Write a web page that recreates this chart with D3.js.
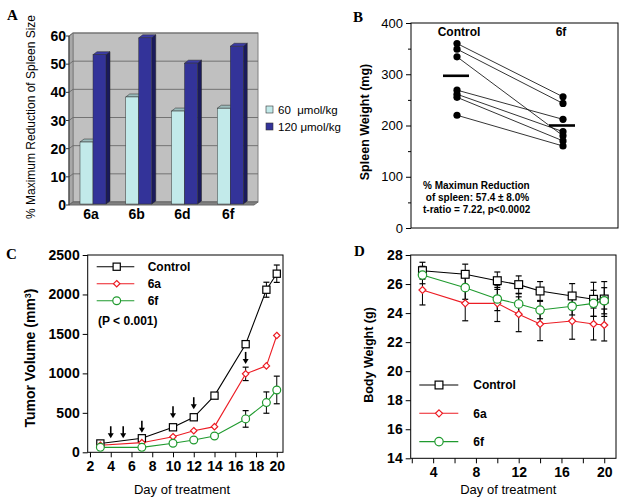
<!DOCTYPE html>
<html><head><meta charset="utf-8">
<script src="https://cdn.jsdelivr.net/npm/d3@7"></script>
<style>
body{margin:0;background:#fff}
svg{display:block}
text{font-family:"Liberation Sans",Arial,sans-serif;fill:#000}
</style>
</head><body><svg id="fig" width="624" height="502"></svg>
<script>
// ---------- Panel A data ----------
const categoriesA = ["6a", "6b", "6d", "6f"];
const reduction60 = [22, 38, 33, 34];
const reduction120 = [53, 59, 50, 56];
const ticksA = [0, 10, 20, 30, 40, 50, 60];
const seriesA = ["60  μmol/kg", "120 μmol/kg"];
// ---------- Panel B data ----------
const groupsB = ["Control", "6f"];
const spleenControl = [360, 349, 334, 269, 261, 255, 220];
const spleen6f = [256, 243, 180, 212, 188, 170, 160];
const spleenMeans = [297, 200];
const ticksB = [0, 100, 200, 300, 400];
const minorTicksB = [50, 150, 250, 350];
const noteB = ["% Maximun Reduction", " of spleen: 57.4 \u00b1 8.0%", "t-ratio = 7.22, p<0.0002"];
// ---------- Panel C data ----------
const daysC = [3, 7, 10, 12, 14, 17, 19, 20];
const tumorControl = [112, 178, 317, 444, 718, 1370, 2060, 2263];
const tumor6a = [90, 122, 198, 274, 325, 994, 1095, 1480];
const tumor6f = [63, 63, 114, 156, 207, 423, 630, 790];
const tumorErrControl = [0, 0, 0, 0, 0, 0, 95, 110];
const tumorErr6a = [0, 0, 0, 0, 0, 85, 0, 0];
const tumorErr6f = [0, 0, 0, 0, 0, 105, 135, 175];
const arrowDays = [4, 5.2, 7, 10, 12, 17];
const arrowTips = [178, 178, 249, 431, 546, 1120];
const ticksCy = [0, 500, 1000, 1500, 2000, 2500];
const ticksCx = [2, 4, 6, 8, 10, 12, 14, 16, 18, 20];
const seriesNames = ["Control", "6a", "6f"];
// ---------- Panel D data ----------
const daysD = [3, 7, 10, 12, 14, 17, 19, 20];
const bwControl = [26.92, 26.67, 26.23, 25.96, 25.52, 25.18, 24.95, 24.97];
const bw6a = [25.59, 24.67, 24.67, 23.92, 23.25, 23.45, 23.25, 23.18];
const bw6f = [26.62, 25.75, 24.97, 24.63, 24.21, 24.47, 24.67, 24.85];
const bwErrControl = [0.58, 0.7, 0.6, 0.6, 0.65, 0.85, 1.17, 1.2];
const bwErr6a = [1.03, 1.2, 1.25, 1.2, 1.15, 1.25, 1.1, 1.1];
const bwErr6f = [0.6, 0.8, 0.8, 0.7, 0.6, 0.6, 0.9, 0.9];
const ticksDy = [14, 16, 18, 20, 22, 24, 26, 28];
const ticksDx = [2, 4, 6, 8, 10, 12, 14, 16, 18, 20];
const labelsDx = [4, 8, 12, 16, 20];

const svg = d3.select("#fig");
const RED = "#ec1c24", GREEN = "#1f9a2e", BLACK = "#000";
const intFmt = d3.format("d");

function panelLetter(t, x, y) {
  svg.append("text").attr("x", x).attr("y", y).text(t)
    .style("font-family", '"Liberation Serif","Times New Roman",serif')
    .style("font-weight", "bold").style("font-size", "15px");
}
function styleAxis(g, size, weight) {
  g.select(".domain").remove();
  g.selectAll("line").attr("stroke", "#000");
  g.selectAll("text").style("font-family", '"Liberation Sans",Arial,sans-serif')
    .style("font-size", size + "px").style("font-weight", weight).attr("fill", "#000");
}

// ================= Panel A =================
panelLetter("A", 7, 20);
{
  const g = svg.append("g");
  const dX = 4, dY = -3;
  const wallL = 73, wallR = 258;
  const yA = d3.scaleLinear().domain([0, 60]).range([202, 33]);
  const xA = d3.scaleBand().domain(categoriesA).range([73, 256]);
  const sub = d3.scaleBand().domain([0, 1]).range([7, 33]);
  g.append("rect").attr("x", wallL).attr("y", yA(60)).attr("width", wallR - wallL)
    .attr("height", yA(0) - yA(60)).attr("fill", "#c0c0c0").attr("stroke", "#808080");
  g.append("path").attr("d", `M${wallL - dX},${yA(60) - dY}L${wallL},${yA(60)}L${wallL},${yA(0)}L${wallL - dX},${yA(0) - dY}Z`)
    .attr("fill", "#a8a8a8").attr("stroke", "#808080");
  ticksA.forEach(t => {
    g.append("path").attr("d", `M${wallL - dX},${yA(t) - dY}L${wallL},${yA(t)}L${wallR},${yA(t)}`)
      .attr("fill", "none").attr("stroke", "#6a6a6a").attr("stroke-width", 0.9);
  });
  g.append("path").attr("d", `M${wallL - dX},${yA(0) - dY}L${wallR - dX},${yA(0) - dY}L${wallR},${yA(0)}L${wallL},${yA(0)}Z`)
    .attr("fill", "#808080").attr("stroke", "#6a6a6a");
  g.append("line").attr("x1", wallL - dX).attr("x2", wallL - dX).attr("y1", yA(60) - dY).attr("y2", yA(0) - dY).attr("stroke", "#333");
  ticksA.forEach(t => {
    g.append("line").attr("x1", wallL - dX - 3).attr("x2", wallL - dX).attr("y1", yA(t) - dY).attr("y2", yA(t) - dY).attr("stroke", "#333");
    g.append("text").attr("x", wallL - dX - 3).attr("y", yA(t) - dY + 5).attr("text-anchor", "end")
      .style("font-size", "14px").style("font-weight", "bold").text(t);
  });
  const bw = sub.bandwidth();
  function bar(x, v, front, top, side) {
    const yT = yA(v) + 2, yB = yA(0) + 2;
    g.append("path").attr("d", `M${x + bw},${yT}L${x + bw + dX},${yT + dY}L${x + bw + dX},${yB + dY}L${x + bw},${yB}Z`)
      .attr("fill", side).attr("stroke", "#222").attr("stroke-width", 0.5);
    g.append("path").attr("d", `M${x},${yT}L${x + dX},${yT + dY}L${x + bw + dX},${yT + dY}L${x + bw},${yT}Z`)
      .attr("fill", top).attr("stroke", "#222").attr("stroke-width", 0.5);
    g.append("rect").attr("x", x).attr("y", yT).attr("width", bw).attr("height", yB - yT)
      .attr("fill", front).attr("stroke", "#333").attr("stroke-width", 0.5);
  }
  categoriesA.forEach((c, i) => {
    bar(xA(c) + sub(0), reduction60[i], "#c2eaea", "#9cbcbc", "#7fa3a3");
    bar(xA(c) + sub(1), reduction120[i], "#333399", "#3c3ca6", "#1a1a5c");
    g.append("text").attr("x", xA(c) + 18).attr("y", 219).attr("text-anchor", "middle")
      .style("font-size", "14px").style("font-weight", "bold").text(c);
  });
  g.append("text").attr("transform", "translate(35,117) rotate(-90)").attr("text-anchor", "middle")
    .style("font-size", "12px").text("% Maximum Reduction of Spleen Size");
  const legCol = ["#c2eaea", "#333399"];
  seriesA.forEach((s, i) => {
    g.append("rect").attr("x", 266).attr("y", 106 + i * 17).attr("width", 7).attr("height", 7)
      .attr("fill", legCol[i]).attr("stroke", "#333").attr("stroke-width", 0.6);
    g.append("text").attr("x", 278).attr("y", 114 + i * 17).style("font-size", "11.5px")
      .attr("xml:space", "preserve").text(s);
  });
}

// ================= Panel B =================
panelLetter("B", 353, 22);
{
  const g = svg.append("g");
  const yB = d3.scaleLinear().domain([0, 400]).range([228, 23]);
  const xB = d3.scalePoint().domain(groupsB).range([457, 563]);
  g.append("rect").attr("x", 411).attr("y", 23).attr("width", 207).attr("height", 205)
    .attr("fill", "none").attr("stroke", "#000").attr("stroke-width", 1);
  const ax = g.append("g").attr("transform", "translate(411,0)")
    .call(d3.axisLeft(yB).tickValues(ticksB).tickSize(5).tickPadding(3).tickFormat(intFmt));
  styleAxis(ax, 13, "normal");
  g.append("g").attr("transform", "translate(411,0)")
    .call(d3.axisLeft(yB).tickValues(minorTicksB).tickSize(3).tickFormat(""))
    .call(s => s.select(".domain").remove());
  spleenControl.forEach((v, i) => {
    g.append("line").attr("x1", xB("Control")).attr("y1", yB(v)).attr("x2", xB("6f")).attr("y2", yB(spleen6f[i]))
      .attr("stroke", "#000").attr("stroke-width", 0.8);
  });
  [spleenControl, spleen6f].forEach((arr, k) => {
    arr.forEach(v => g.append("circle").attr("cx", xB(groupsB[k])).attr("cy", yB(v)).attr("r", 3.6).attr("fill", "#000"));
  });
  groupsB.forEach((gname, k) => {
    g.append("line").attr("x1", xB(gname) - 14).attr("x2", xB(gname) + 12).attr("y1", yB(spleenMeans[k])).attr("y2", yB(spleenMeans[k]))
      .attr("stroke", "#000").attr("stroke-width", 2.6);
    g.append("text").attr("x", xB(gname) + (k === 0 ? 2 : -2)).attr("y", 36).attr("text-anchor", "middle")
      .style("font-size", "12px").style("font-weight", "bold").text(gname);
  });
  g.append("text").attr("transform", "translate(369,122) rotate(-90)").attr("text-anchor", "middle")
    .style("font-size", "12.5px").style("font-weight", "bold").text("Spleen Weight (mg)");
  noteB.forEach((t, i) => {
    g.append("text").attr("x", 423).attr("y", 189 + i * 12).attr("xml:space", "preserve")
      .style("font-size", "10px").style("font-weight", "bold").text(t);
  });
}

function drawMarker(g, type, x, y, color, s) {
  if (type === "square") {
    g.append("rect").attr("x", x - s).attr("y", y - s).attr("width", 2 * s).attr("height", 2 * s)
      .attr("fill", "#fff").attr("stroke", color).attr("stroke-width", 1.2);
  } else if (type === "diamond") {
    g.append("path").attr("d", `M${x},${y - s}L${x + s},${y}L${x},${y + s}L${x - s},${y}Z`)
      .attr("fill", "#fff").attr("stroke", color).attr("stroke-width", 1.2);
  } else {
    g.append("circle").attr("cx", x).attr("cy", y).attr("r", s).attr("fill", "#fff")
      .attr("stroke", color).attr("stroke-width", 1.2);
  }
}
function errBar(g, x, y1, y2, cap) {
  g.append("line").attr("x1", x).attr("x2", x).attr("y1", y1).attr("y2", y2).attr("stroke", "#000").attr("stroke-width", 1);
  [y1, y2].forEach(y => g.append("line").attr("x1", x - cap).attr("x2", x + cap).attr("y1", y).attr("y2", y)
    .attr("stroke", "#000").attr("stroke-width", 1.2));
}
const markerTypes = ["square", "diamond", "circle"];
const markerSizes = [3.6, 3.2, 3.9];
const colors = [BLACK, RED, GREEN];

// ================= Panel C =================
panelLetter("C", 6, 259);
{
  const g = svg.append("g");
  const xC = d3.scaleLinear().domain([1.78, 20.6]).range([87.7, 283]);
  const yC = d3.scaleLinear().domain([0, 2500]).range([452.3, 255]);
  g.append("rect").attr("x", 87.7).attr("y", 255).attr("width", 283 - 87.7).attr("height", 452.3 - 255)
    .attr("fill", "none").attr("stroke", "#000");
  const ay = g.append("g").attr("transform", "translate(87.7,0)")
    .call(d3.axisLeft(yC).tickValues(ticksCy).tickSize(5).tickPadding(3).tickFormat(intFmt));
  styleAxis(ay, 14, "bold");
  const axx = g.append("g").attr("transform", "translate(0,452.3)")
    .call(d3.axisBottom(xC).tickValues(ticksCx).tickSize(5).tickPadding(4).tickFormat(intFmt));
  styleAxis(axx, 14, "bold");
  const series = [tumorControl, tumor6a, tumor6f];
  const errs = [tumorErrControl, tumorErr6a, tumorErr6f];
  series.forEach((s, k) => s.forEach((v, i) => {
    if (errs[k][i] > 0) errBar(g, xC(daysC[i]), yC(v - errs[k][i]), yC(v + errs[k][i]), 3);
  }));
  const line = d3.line().x((d, i) => xC(daysC[i])).y(d => yC(d));
  series.forEach((s, k) => {
    g.append("path").attr("d", line(s)).attr("fill", "none").attr("stroke", colors[k]).attr("stroke-width", 1.1);
  });
  series.forEach((s, k) => s.forEach((v, i) => drawMarker(g, markerTypes[k], xC(daysC[i]), yC(v), colors[k], markerSizes[k])));
  arrowDays.forEach((d, i) => {
    const x = xC(d), yt = yC(arrowTips[i]);
    g.append("line").attr("x1", x).attr("x2", x).attr("y1", yt - 12).attr("y2", yt - 4).attr("stroke", "#000").attr("stroke-width", 1.6);
    g.append("path").attr("d", `M${x - 3},${yt - 5}L${x + 3},${yt - 5}L${x},${yt}Z`).attr("fill", "#000");
  });
  seriesNames.forEach((n, k) => {
    const y = 266.7 + k * 17;
    g.append("line").attr("x1", 96.7).attr("x2", 134.3).attr("y1", y).attr("y2", y).attr("stroke", colors[k]).attr("stroke-width", 1.1);
    drawMarker(g, markerTypes[k], 116.7, y, colors[k], markerSizes[k]);
    g.append("text").attr("x", 147.7).attr("y", y + 4.3).style("font-size", "12px").style("font-weight", "bold").text(n);
  });
  g.append("text").attr("x", 98).attr("y", 325).style("font-size", "12px").style("font-weight", "bold").text("(P < 0.001)");
  g.append("text").attr("x", 182).attr("y", 494).attr("text-anchor", "middle").style("font-size", "13px").text("Day of treatment");
  const yt = g.append("text").attr("transform", "translate(35,358) rotate(-90)").attr("text-anchor", "middle")
    .style("font-size", "14px").style("font-weight", "bold");
  yt.append("tspan").text("Tumor Volume (mm");
  yt.append("tspan").attr("dy", -4).style("font-size", "9px").text("3");
  yt.append("tspan").attr("dy", 4).text(")");
}

// ================= Panel D =================
panelLetter("D", 354, 256);
{
  const g = svg.append("g");
  const xD = d3.scaleLinear().domain([1.9, 21.1]).range([410.7, 616]);
  const yD = d3.scaleLinear().domain([14, 28]).range([458.3, 255]);
  g.append("rect").attr("x", 410.7).attr("y", 255).attr("width", 616 - 410.7).attr("height", 458.3 - 255)
    .attr("fill", "none").attr("stroke", "#000");
  const ay = g.append("g").attr("transform", "translate(410.7,0)")
    .call(d3.axisLeft(yD).tickValues(ticksDy).tickSize(5).tickPadding(3).tickFormat(intFmt));
  styleAxis(ay, 14, "bold");
  const axx = g.append("g").attr("transform", "translate(0,458.3)")
    .call(d3.axisBottom(xD).tickValues(ticksDx).tickSize(5).tickPadding(4)
      .tickFormat(d => labelsDx.includes(d) ? intFmt(d) : ""));
  styleAxis(axx, 14, "bold");
  const series = [bwControl, bw6a, bw6f];
  const errs = [bwErrControl, bwErr6a, bwErr6f];
  series.forEach((s, k) => s.forEach((v, i) => errBar(g, xD(daysD[i]), yD(v - errs[k][i]), yD(v + errs[k][i]), 3)));
  const line = d3.line().x((d, i) => xD(daysD[i])).y(d => yD(d));
  series.forEach((s, k) => {
    g.append("path").attr("d", line(s)).attr("fill", "none").attr("stroke", colors[k]).attr("stroke-width", 1.1);
  });
  series.forEach((s, k) => s.forEach((v, i) => drawMarker(g, markerTypes[k], xD(daysD[i]), yD(v), colors[k], markerSizes[k] + 0.3)));
  seriesNames.forEach((n, k) => {
    const y = 385 + k * 28.3;
    g.append("line").attr("x1", 419.3).attr("x2", 458.3).attr("y1", y).attr("y2", y).attr("stroke", colors[k]).attr("stroke-width", 1.1);
    drawMarker(g, markerTypes[k], 439, y, colors[k], markerSizes[k] + 0.3);
    g.append("text").attr("x", 473.3).attr("y", y + 4.3).style("font-size", "12px").style("font-weight", "bold").text(n);
  });
  g.append("text").attr("x", 508.3).attr("y", 494).attr("text-anchor", "middle").style("font-size", "13px").text("Day of treatment");
  g.append("text").attr("transform", "translate(373,355) rotate(-90)").attr("text-anchor", "middle")
    .style("font-size", "12.5px").style("font-weight", "bold").text("Body Weight (g)");
}
</script>
</body></html>
